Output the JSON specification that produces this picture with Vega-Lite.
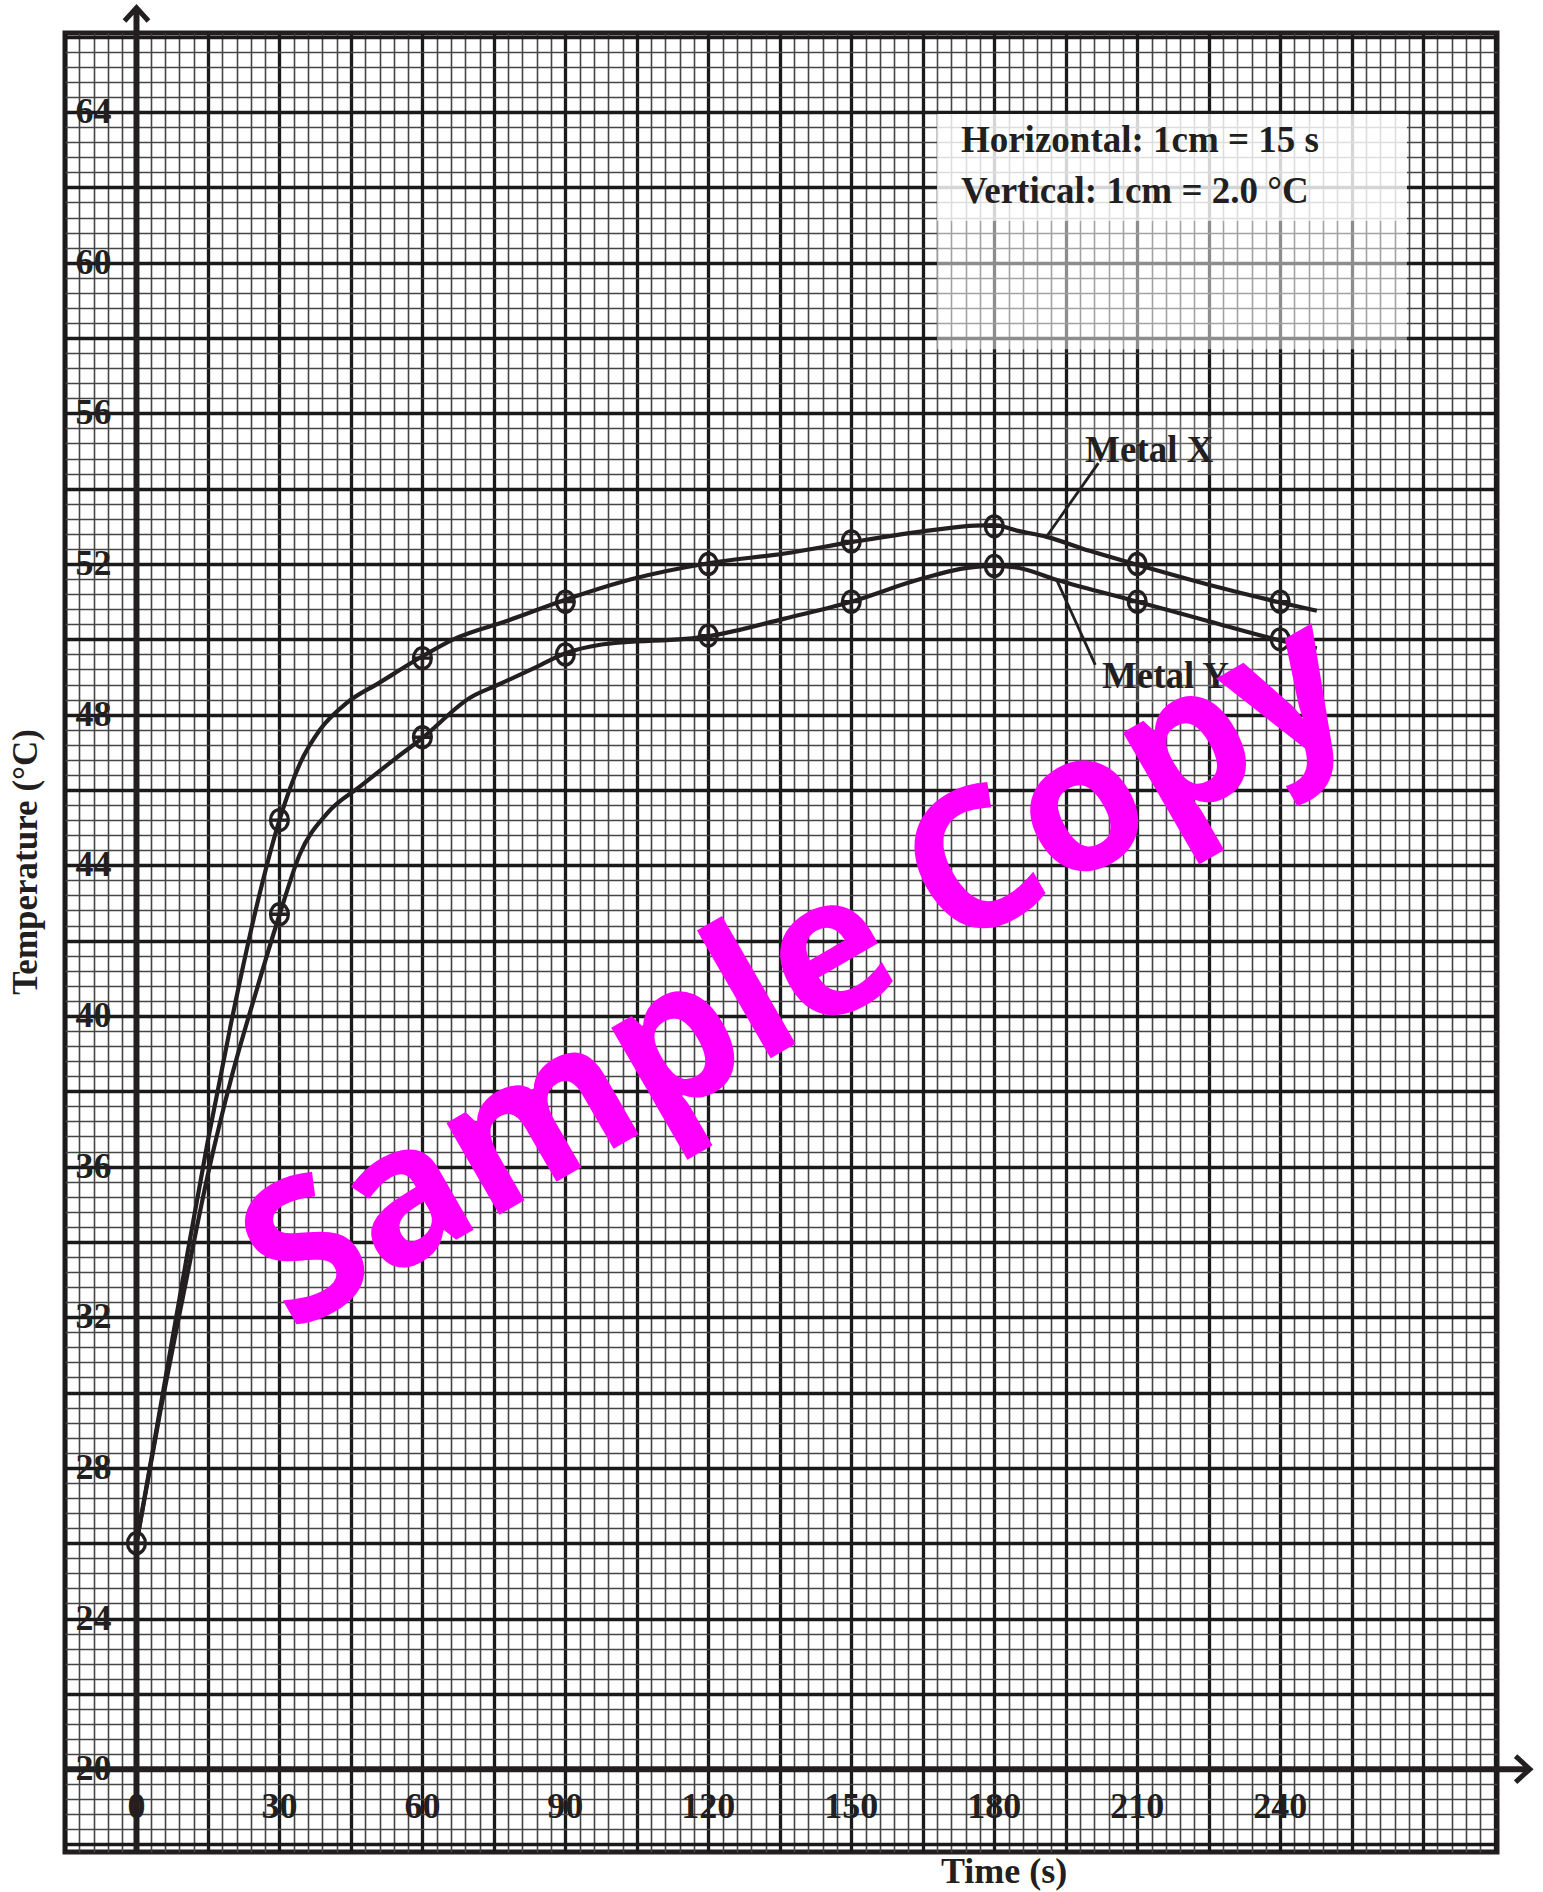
{
  "$schema": "https://vega.github.io/schema/vega-lite/v6.json",
  "width": 1432,
  "height": 1819,
  "autosize": {"type": "none"},
  "padding": {"left": 65, "top": 33, "right": 46, "bottom": 40},
  "background": "white",
  "config": {"view": {"stroke": "#231f20", "strokeWidth": 5}},
  "datasets": {
    "pts": [
      {"metal": "X", "t": 0, "temp": 26.0},
      {"metal": "X", "t": 30, "temp": 45.2},
      {"metal": "X", "t": 60, "temp": 49.5},
      {"metal": "X", "t": 90, "temp": 51.0},
      {"metal": "X", "t": 120, "temp": 52.0},
      {"metal": "X", "t": 150, "temp": 52.6},
      {"metal": "X", "t": 180, "temp": 53.0},
      {"metal": "X", "t": 210, "temp": 52.0},
      {"metal": "X", "t": 240, "temp": 51.0},
      {"metal": "Y", "t": 30, "temp": 42.7},
      {"metal": "Y", "t": 60, "temp": 47.4},
      {"metal": "Y", "t": 90, "temp": 49.6},
      {"metal": "Y", "t": 120, "temp": 50.1},
      {"metal": "Y", "t": 150, "temp": 51.0},
      {"metal": "Y", "t": 180, "temp": 51.95},
      {"metal": "Y", "t": 210, "temp": 51.0},
      {"metal": "Y", "t": 240, "temp": 50.0}
    ],
    "curve": [
      {"metal": "X", "t": 0, "temp": 26},
      {"metal": "X", "t": 5, "temp": 29.6},
      {"metal": "X", "t": 10, "temp": 33.2},
      {"metal": "X", "t": 15, "temp": 36.7},
      {"metal": "X", "t": 20, "temp": 39.9},
      {"metal": "X", "t": 25, "temp": 42.8},
      {"metal": "X", "t": 30, "temp": 45.2},
      {"metal": "X", "t": 34.3, "temp": 46.7},
      {"metal": "X", "t": 38.5, "temp": 47.6},
      {"metal": "X", "t": 44, "temp": 48.3},
      {"metal": "X", "t": 51, "temp": 48.85},
      {"metal": "X", "t": 60, "temp": 49.55},
      {"metal": "X", "t": 66.5, "temp": 50.0},
      {"metal": "X", "t": 78, "temp": 50.5},
      {"metal": "X", "t": 90, "temp": 51.05},
      {"metal": "X", "t": 104, "temp": 51.6},
      {"metal": "X", "t": 120, "temp": 52.02},
      {"metal": "X", "t": 136, "temp": 52.28},
      {"metal": "X", "t": 150, "temp": 52.58},
      {"metal": "X", "t": 167, "temp": 52.9},
      {"metal": "X", "t": 176, "temp": 53.02},
      {"metal": "X", "t": 180, "temp": 53.03},
      {"metal": "X", "t": 185, "temp": 52.88},
      {"metal": "X", "t": 191, "temp": 52.72},
      {"metal": "X", "t": 200, "temp": 52.35},
      {"metal": "X", "t": 210, "temp": 51.98},
      {"metal": "X", "t": 225, "temp": 51.45},
      {"metal": "X", "t": 240, "temp": 50.98},
      {"metal": "X", "t": 247.7, "temp": 50.76},
      {"metal": "Y", "t": 0, "temp": 26},
      {"metal": "Y", "t": 5, "temp": 29.5},
      {"metal": "Y", "t": 10, "temp": 32.7},
      {"metal": "Y", "t": 15, "temp": 35.8},
      {"metal": "Y", "t": 20, "temp": 38.4},
      {"metal": "Y", "t": 25, "temp": 40.6},
      {"metal": "Y", "t": 30, "temp": 42.68},
      {"metal": "Y", "t": 34.3, "temp": 44.3},
      {"metal": "Y", "t": 40, "temp": 45.38},
      {"metal": "Y", "t": 47, "temp": 46.1},
      {"metal": "Y", "t": 54, "temp": 46.8},
      {"metal": "Y", "t": 60, "temp": 47.38},
      {"metal": "Y", "t": 70, "temp": 48.45},
      {"metal": "Y", "t": 76, "temp": 48.8},
      {"metal": "Y", "t": 84, "temp": 49.27},
      {"metal": "Y", "t": 90, "temp": 49.63},
      {"metal": "Y", "t": 97, "temp": 49.85},
      {"metal": "Y", "t": 120, "temp": 50.08},
      {"metal": "Y", "t": 136, "temp": 50.55},
      {"metal": "Y", "t": 150, "temp": 51.0},
      {"metal": "Y", "t": 164, "temp": 51.58},
      {"metal": "Y", "t": 174, "temp": 51.89},
      {"metal": "Y", "t": 180, "temp": 51.95},
      {"metal": "Y", "t": 185, "temp": 51.9},
      {"metal": "Y", "t": 193, "temp": 51.58},
      {"metal": "Y", "t": 210, "temp": 51.0},
      {"metal": "Y", "t": 225, "temp": 50.48},
      {"metal": "Y", "t": 240, "temp": 49.97},
      {"metal": "Y", "t": 247.7, "temp": 49.76}
    ],
    "boxes": [
      {"kind": "scale", "x1": 168.0, "x2": 266.6, "y1": 61.1, "y2": 63.95},
      {"kind": "ghost", "x1": 168.0, "x2": 266.6, "y1": 57.7, "y2": 61.1},
      {"kind": "label", "x1": 194.9, "x2": 231.6, "y1": 54.39, "y2": 55.93},
      {"kind": "label", "x1": 198.0, "x2": 235.2, "y1": 48.32, "y2": 49.9}
    ],
    "leaders": [
      {"metal": "X", "x1": 201.85, "y1": 54.68, "x2": 191.0, "y2": 52.73},
      {"metal": "Y", "x1": 193.1, "y1": 51.58, "x2": 201.2, "y2": 49.32}
    ],
    "curveLabels": [
      {"label": "Metal X", "x": 199.06, "y": 54.71},
      {"label": "Metal Y", "x": 202.6, "y": 48.71}
    ],
    "scaleNotes": [
      {"label": "Horizontal: 1cm = 15 s", "x": 173.0, "y": 62.93},
      {"label": "Vertical: 1cm = 2.0 °C", "x": 173.0, "y": 61.59}
    ],
    "axisLines": [
      {"name": "time", "x1": -15, "x2": 292.4, "y1": 20, "y2": 20},
      {"name": "temp", "x1": 0, "x2": 0, "y1": 17.8, "y2": 66.77}
    ],
    "arrowUp": [{"x": 0, "y": 66.77}],
    "arrowRight": [{"x": 292.4, "y": 20}],
    "ylab": [{"v": 20}, {"v": 24}, {"v": 28}, {"v": 32}, {"v": 36}, {"v": 40}, {"v": 44}, {"v": 48}, {"v": 52}, {"v": 56}, {"v": 60}, {"v": 64}],
    "xlab": [{"v": 0}, {"v": 30}, {"v": 60}, {"v": 90}, {"v": 120}, {"v": 150}, {"v": 180}, {"v": 210}, {"v": 240}],
    "titles": [
      {"label": "Temperature (°C)", "x": -23.2, "y": 44.09, "rot": "v"},
      {"label": "Time (s)", "x": 182.06, "y": 17.26, "rot": "h"}
    ],
    "mark": [{"label": "Sample Copy", "x": 139.1, "y": 41.1}]
  },
  "resolve": {"axis": {"x": "independent", "y": "independent"}, "scale": {"x": "shared", "y": "shared"}},
  "layer": [
    {
      "data": {"name": "boxes"},
      "mark": {"type": "rect", "fill": "white", "strokeWidth": 0},
      "encoding": {
        "x": {"field": "x1", "type": "quantitative", "scale": {"domain": [-15, 285.5], "nice": false, "zero": false},
              "axis": {"values": [-15,-12,-9,-6,-3,0,3,6,9,12,15,18,21,24,27,30,33,36,39,42,45,48,51,54,57,60,63,66,69,72,75,78,81,84,87,90,93,96,99,102,105,108,111,114,117,120,123,126,129,132,135,138,141,144,147,150,153,156,159,162,165,168,171,174,177,180,183,186,189,192,195,198,201,204,207,210,213,216,219,222,225,228,231,234,237,240,243,246,249,252,255,258,261,264,267,270,273,276,279,282,285],
                       "grid": true, "gridColor": "#454545", "gridWidth": 1.6, "labels": false, "ticks": false, "domain": false, "title": null}},
        "x2": {"field": "x2"},
        "y": {"field": "y1", "type": "quantitative", "scale": {"domain": [17.8, 66.1], "nice": false, "zero": false},
              "axis": {"values": [18,18.4,18.8,19.2,19.6,20,20.4,20.8,21.2,21.6,22,22.4,22.8,23.2,23.6,24,24.4,24.8,25.2,25.6,26,26.4,26.8,27.2,27.6,28,28.4,28.8,29.2,29.6,30,30.4,30.8,31.2,31.6,32,32.4,32.8,33.2,33.6,34,34.4,34.8,35.2,35.6,36,36.4,36.8,37.2,37.6,38,38.4,38.8,39.2,39.6,40,40.4,40.8,41.2,41.6,42,42.4,42.8,43.2,43.6,44,44.4,44.8,45.2,45.6,46,46.4,46.8,47.2,47.6,48,48.4,48.8,49.2,49.6,50,50.4,50.8,51.2,51.6,52,52.4,52.8,53.2,53.6,54,54.4,54.8,55.2,55.6,56,56.4,56.8,57.2,57.6,58,58.4,58.8,59.2,59.6,60,60.4,60.8,61.2,61.6,62,62.4,62.8,63.2,63.6,64,64.4,64.8,65.2,65.6,66],
                       "grid": true, "gridColor": "#454545", "gridWidth": 1.6, "labels": false, "ticks": false, "domain": false, "title": null}},
        "y2": {"field": "y2"},
        "opacity": {"field": "kind", "type": "nominal", "scale": {"domain": ["scale", "ghost", "label"], "range": [0.82, 0.18, 0.85]}, "legend": null}
      }
    },
    {
      "data": {"name": "xlab"},
      "mark": {"type": "text", "text": ""},
      "encoding": {
        "x": {"field": "v", "type": "quantitative",
              "axis": {"values": [-15,0,15,30,45,60,75,90,105,120,135,150,165,180,195,210,225,240,255,270,285],
                       "grid": true, "gridColor": "#1a1a1a", "gridWidth": 3.3, "labels": false, "ticks": false, "domain": false, "title": null}},
        "y": {"datum": 20, "type": "quantitative",
              "axis": {"values": [18,20,22,24,26,28,30,32,34,36,38,40,42,44,46,48,50,52,54,56,58,60,62,64,66],
                       "grid": true, "gridColor": "#1a1a1a", "gridWidth": 3.3, "labels": false, "ticks": false, "domain": false, "title": null}}
      }
    },
    {
      "data": {"name": "curve"},
      "mark": {"type": "line", "interpolate": "monotone", "stroke": "#231f20", "strokeWidth": 4.2},
      "encoding": {
        "x": {"field": "t", "type": "quantitative", "axis": null},
        "y": {"field": "temp", "type": "quantitative", "axis": null},
        "detail": {"field": "metal"},
        "order": {"field": "t", "type": "quantitative"}
      }
    },
    {
      "data": {"name": "pts"},
      "mark": {"type": "point", "shape": "M -0.85 0 A 0.85 1 0 1 1 0.85 0 A 0.85 1 0 1 1 -0.85 0 Z M -0.85 0 L 0.85 0 M 0 -1 L 0 1", "filled": false, "stroke": "#231f20", "strokeWidth": 3.3, "size": 440, "opacity": 1},
      "encoding": {
        "x": {"field": "t", "type": "quantitative", "axis": null},
        "y": {"field": "temp", "type": "quantitative", "axis": null}
      }
    },
    {
      "data": {"name": "leaders"},
      "mark": {"type": "rule", "stroke": "#231f20", "strokeWidth": 2.8},
      "encoding": {
        "x": {"field": "x1", "type": "quantitative", "axis": null},
        "x2": {"field": "x2"},
        "y": {"field": "y1", "type": "quantitative", "axis": null},
        "y2": {"field": "y2"}
      }
    },
    {
      "data": {"name": "curveLabels"},
      "mark": {"type": "text", "align": "left", "baseline": "alphabetic", "font": "Liberation Serif", "fontWeight": "bold", "fontSize": 37, "fill": "#231f20"},
      "encoding": {
        "x": {"field": "x", "type": "quantitative", "axis": null},
        "y": {"field": "y", "type": "quantitative", "axis": null},
        "text": {"field": "label"}
      }
    },
    {
      "data": {"name": "scaleNotes"},
      "mark": {"type": "text", "align": "left", "baseline": "alphabetic", "font": "Liberation Serif", "fontWeight": "bold", "fontSize": 37, "fill": "#231f20"},
      "encoding": {
        "x": {"field": "x", "type": "quantitative", "axis": null},
        "y": {"field": "y", "type": "quantitative", "axis": null},
        "text": {"field": "label"}
      }
    },
    {
      "data": {"name": "axisLines"},
      "mark": {"type": "rule", "stroke": "#231f20", "strokeWidth": 6},
      "encoding": {
        "x": {"field": "x1", "type": "quantitative", "axis": null},
        "x2": {"field": "x2"},
        "y": {"field": "y1", "type": "quantitative", "axis": null},
        "y2": {"field": "y2"}
      }
    },
    {
      "data": {"name": "arrowUp"},
      "mark": {"type": "point", "shape": "M -1 1.1 L 0 0 L 1 1.1", "filled": false, "stroke": "#231f20", "strokeWidth": 5, "size": 576, "opacity": 1},
      "encoding": {
        "x": {"field": "x", "type": "quantitative", "axis": null},
        "y": {"field": "y", "type": "quantitative", "axis": null}
      }
    },
    {
      "data": {"name": "arrowRight"},
      "mark": {"type": "point", "shape": "M -1.1 -1 L 0 0 L -1.1 1", "filled": false, "stroke": "#231f20", "strokeWidth": 5, "size": 676, "opacity": 1},
      "encoding": {
        "x": {"field": "x", "type": "quantitative", "axis": null},
        "y": {"field": "y", "type": "quantitative", "axis": null}
      }
    },
    {
      "data": {"name": "ylab"},
      "mark": {"type": "text", "align": "center", "baseline": "middle", "font": "Liberation Serif", "fontWeight": "bold", "fontSize": 36, "fill": "#231f20"},
      "encoding": {
        "x": {"datum": -9, "type": "quantitative", "axis": null},
        "y": {"field": "v", "type": "quantitative", "axis": null},
        "text": {"field": "v"}
      }
    },
    {
      "data": {"name": "xlab"},
      "mark": {"type": "text", "align": "center", "baseline": "middle", "font": "Liberation Serif", "fontWeight": "bold", "fontSize": 36, "fill": "#231f20"},
      "encoding": {
        "x": {"field": "v", "type": "quantitative", "axis": null},
        "y": {"datum": 19.0, "type": "quantitative", "axis": null},
        "text": {"field": "v"}
      }
    },
    {
      "data": {"name": "titles"},
      "transform": [{"filter": "datum.rot == 'v'"}],
      "mark": {"type": "text", "align": "center", "baseline": "middle", "angle": 270, "font": "Liberation Serif", "fontWeight": "bold", "fontSize": 35, "fill": "#231f20"},
      "encoding": {
        "x": {"field": "x", "type": "quantitative", "axis": null},
        "y": {"field": "y", "type": "quantitative", "axis": null},
        "text": {"field": "label"}
      }
    },
    {
      "data": {"name": "titles"},
      "transform": [{"filter": "datum.rot == 'h'"}],
      "mark": {"type": "text", "align": "center", "baseline": "middle", "font": "Liberation Serif", "fontWeight": "bold", "fontSize": 36, "fill": "#231f20"},
      "encoding": {
        "x": {"field": "x", "type": "quantitative", "axis": null},
        "y": {"field": "y", "type": "quantitative", "axis": null},
        "text": {"field": "label"}
      }
    },
    {
      "data": {"name": "mark"},
      "mark": {"type": "text", "align": "center", "baseline": "middle", "angle": -30, "font": "Open Sans", "fontWeight": "bold", "fontSize": 194, "fill": "#ff00ff"},
      "encoding": {
        "x": {"field": "x", "type": "quantitative", "axis": null},
        "y": {"field": "y", "type": "quantitative", "axis": null},
        "text": {"field": "label"}
      }
    }
  ]
}
